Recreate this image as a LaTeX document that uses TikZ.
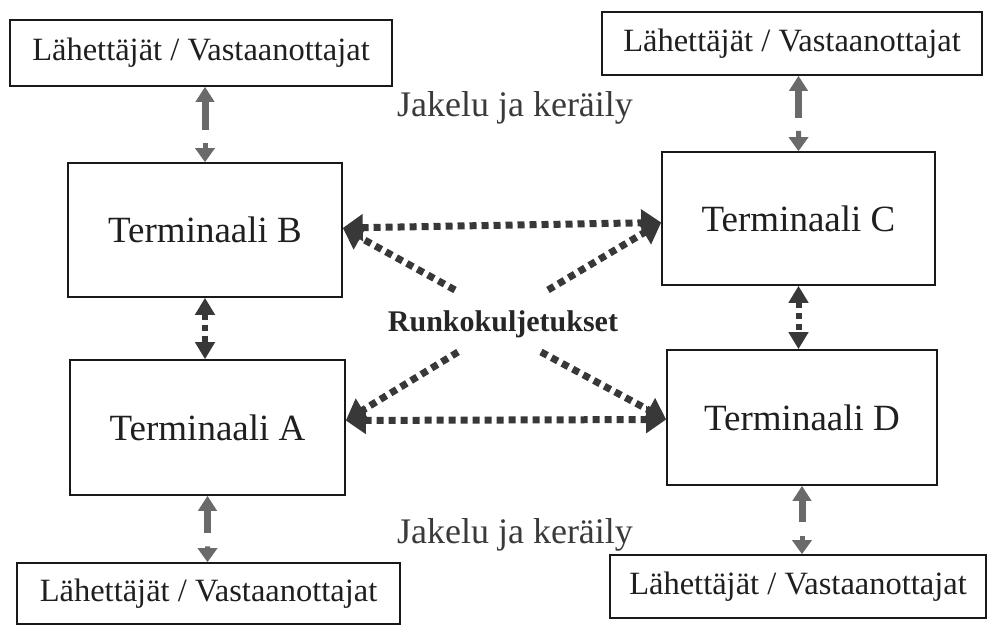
\documentclass[tikz,border=0pt]{standalone}
\usepackage{fontspec}
\setmainfont{Liberation Serif}
\usetikzlibrary{arrows.meta,calc}
\definecolor{dkgray}{HTML}{383838}
\definecolor{midgray}{HTML}{6A6A6A}
\definecolor{txtgray}{HTML}{3A3A3A}
\begin{document}
\begin{tikzpicture}[x=1pt,y=1pt,
  box/.style={draw=black!90,line width=1.6pt,inner sep=0pt,text=black!88},
  smallbox/.style={box,font=\fontsize{32.5}{38}\selectfont},
  termbox/.style={box,font=\fontsize{37}{42}\selectfont},
  label/.style={inner sep=0pt,text=txtgray,font=\fontsize{36}{42}\selectfont},
  dotline/.style={draw=dkgray,line width=7pt,dash pattern=on 7pt off 5pt},
  dotboth/.style={dotline,arrows={Triangle[length=20pt,width=26pt]-Triangle[length=20pt,width=26pt]}},
  dotone/.style={dotline,arrows={-Triangle[length=20pt,width=26pt]}},
  vdot/.style={draw=dkgray,line width=6pt,dash pattern=on 6pt off 5pt,
    arrows={Triangle[length=17pt,width=19pt]-Triangle[length=17pt,width=19pt]}},
  upshaft/.style={draw=midgray,line width=7pt,arrows={-Triangle[length=15pt,width=18pt]}},
  downhead/.style={draw=midgray,line width=5pt,arrows={-Triangle[length=14pt,width=19pt]}}
]
\useasboundingbox (0,0) rectangle (989,626);

% small boxes
\node[smallbox,minimum width=382pt,minimum height=66pt] (tl) at (201,573) {Lähettäjät / Vastaanottajat};
\node[smallbox,minimum width=380pt,minimum height=63pt] (tr) at (792,582.5) {Lähettäjät / Vastaanottajat};
\node[smallbox,minimum width=383pt,minimum height=61pt] (bl) at (208.5,32.5) {Lähettäjät / Vastaanottajat};
\node[smallbox,minimum width=376pt,minimum height=63pt] (br) at (798,39.5) {Lähettäjät / Vastaanottajat};

% terminals
\node[termbox,minimum width=274pt,minimum height=134pt] (B) at (205,396) {Terminaali B};
\node[termbox,minimum width=273pt,minimum height=133pt] (C) at (798.5,407.5) {Terminaali C};
\node[termbox,minimum width=275pt,minimum height=135pt] (A) at (207.5,198.5) {Terminaali A};
\node[termbox,minimum width=270pt,minimum height=135pt] (D) at (802,208.5) {Terminaali D};

% labels
\node[label] (j1) at (515,518) {Jakelu ja keräily};
\node[label] (j2) at (515,91) {Jakelu ja keräily};
\node[inner sep=0pt,text=black!85,font=\bfseries\fontsize{30}{36}\selectfont] (R) at (503,302) {Runkokuljetukset};

% distribution arrows
\coordinate (tlb) at (tl.south -| B.north);
\draw[upshaft] ($(tlb)!0.57!(B.north)$) -- (tlb);
\draw[downhead] ($(tlb)!0.74!(B.north)$) -- (B.north);

\coordinate (trb) at (tr.south -| C.north);
\draw[upshaft] ($(trb)!0.56!(C.north)$) -- (trb);
\draw[downhead] ($(trb)!0.73!(C.north)$) -- (C.north);

\coordinate (blt) at (bl.north -| A.south);
\draw[upshaft] ($(A.south)!0.56!(blt)$) -- (A.south);
\draw[downhead] ($(A.south)!0.76!(blt)$) -- (blt);

\coordinate (brt) at (br.north -| D.south);
\draw[upshaft] ($(D.south)!0.53!(brt)$) -- (D.south);
\draw[downhead] ($(D.south)!0.74!(brt)$) -- (brt);

% terminal to terminal vertical
\draw[vdot] (B.south) -- (B.south |- A.north);
\draw[vdot] (C.south) -- (C.south |- D.north);

% trunk transport
\coordinate (Be) at ([yshift=2pt]B.east);
\coordinate (Cw) at ([yshift=-4pt]C.west);
\coordinate (Ae) at ([yshift=7pt]A.east);
\coordinate (Dw) at ([yshift=-2pt]D.west);
\draw[dotboth] (Be) -- (Cw);
\draw[dotboth] (Ae) -- (Dw);

\coordinate (d1) at (455,336);
\coordinate (d2) at (548,336);
\coordinate (d3) at (458,274);
\coordinate (d4) at (541,274);
\draw[dotone] (d1) -- (Be);
\draw[dotone] (d2) -- (Cw);
\draw[dotone] (d3) -- (Ae);
\draw[dotone] (d4) -- (Dw);
\end{tikzpicture}
\end{document}
